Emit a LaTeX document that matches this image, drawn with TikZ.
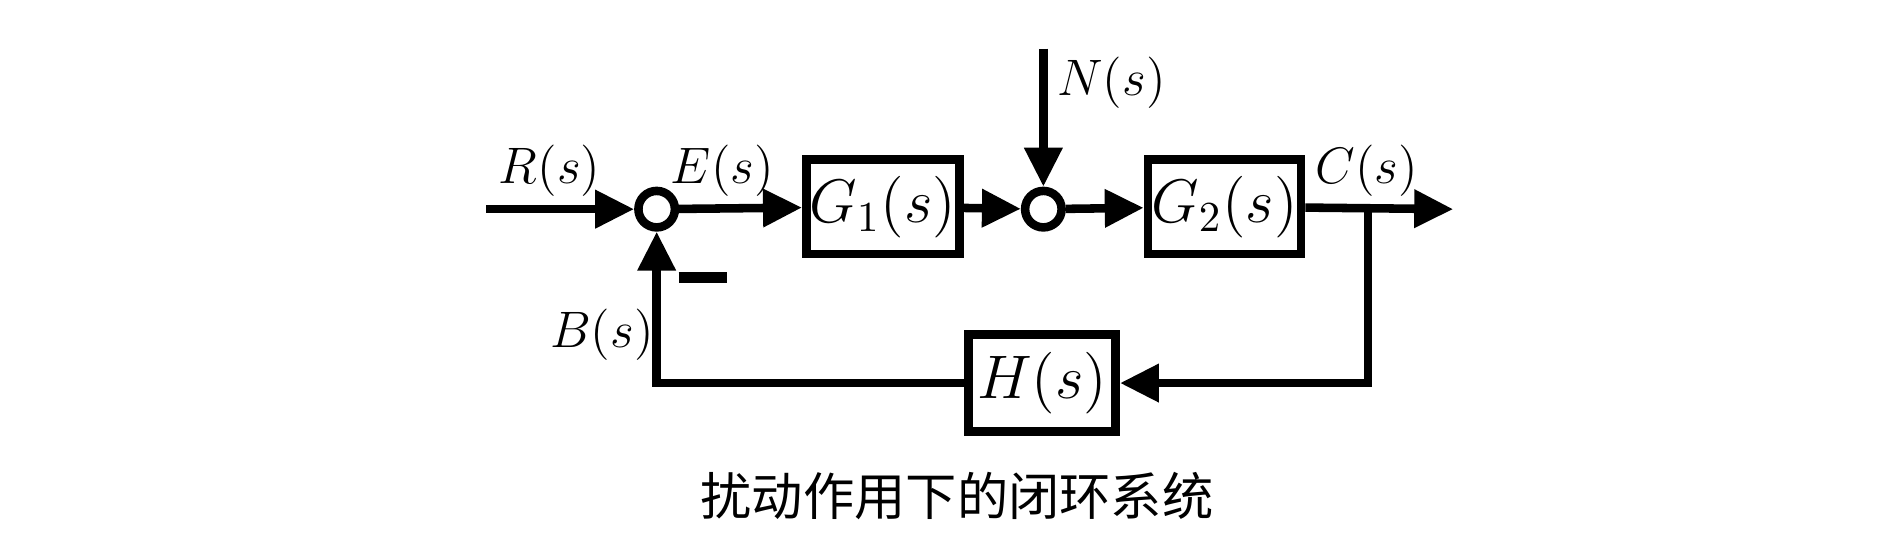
\documentclass[tikz,border=0pt]{standalone}
\usepackage{fontspec}
\newfontfamily\cjk{Noto Sans CJK SC}
\usetikzlibrary{positioning,arrows.meta}

\begin{document}
\begin{tikzpicture}[block/.style={draw,line width=2pt,minimum width=1.26cm,minimum height=0.78cm,inner sep=0pt,font=\Large},
		sum/.style={circle,draw,line width=2pt,fill=white,inner sep=0pt,minimum size=0.3cm},
		sig/.style={line width=2pt,-{Triangle[length=0.32cm,width=0.3cm]}},
		lbl/.style={font=\large}]
	\useasboundingbox (0,0) rectangle (15.6,-4.39);
	\node[sum]										(s1)	at (5.40,-1.72)	{};
	\node[block]									(g1)	at (7.26,-1.70)	{$G_1(s)$};
	\node[sum]										(s2)	at (8.58,-1.72)	{};
	\node[block]									(g2)	at (10.07,-1.70)	{$G_2(s)$};
	\node[block,minimum width=1.21cm,minimum height=0.8cm]	(h)	at (8.57,-3.15)	{$H(s)$};
	\coordinate										(in)	at (4.00,-1.72);
	\coordinate										(out)	at (11.95,-1.72);
	\coordinate										(br)	at (11.25,-1.72);
	\coordinate										(nin)	at (8.58,-0.40);

	\draw[sig] (in) -- (s1);
	\draw[sig] (s1) -- (g1);
	\draw[sig] (g1) -- (s2);
	\draw[sig] (s2) -- (g2);
	\draw[sig] (g2) -- (out);
	\draw[sig] (nin) -- (s2);
	\draw[sig] (br) |- (h);
	\draw[sig] (h) -| (s1);
	\draw[line width=2.5pt] (5.58,-2.28) -- (5.98,-2.28);

	\node[lbl] (rl) at (4.52,-1.40) {$R(s)$};
	\node[lbl] (el) at (5.94,-1.40) {$E(s)$};
	\node[lbl] (nl) at (9.14,-0.68) {$N(s)$};
	\node[lbl] (cl) at (11.24,-1.40) {$C(s)$};
	\node[lbl] (bl) at (4.95,-2.75) {$B(s)$};
	\node[font=\cjk\large] (cap) at (7.87,-4.08) {扰动作用下的闭环系统};
\end{tikzpicture}
\end{document}
